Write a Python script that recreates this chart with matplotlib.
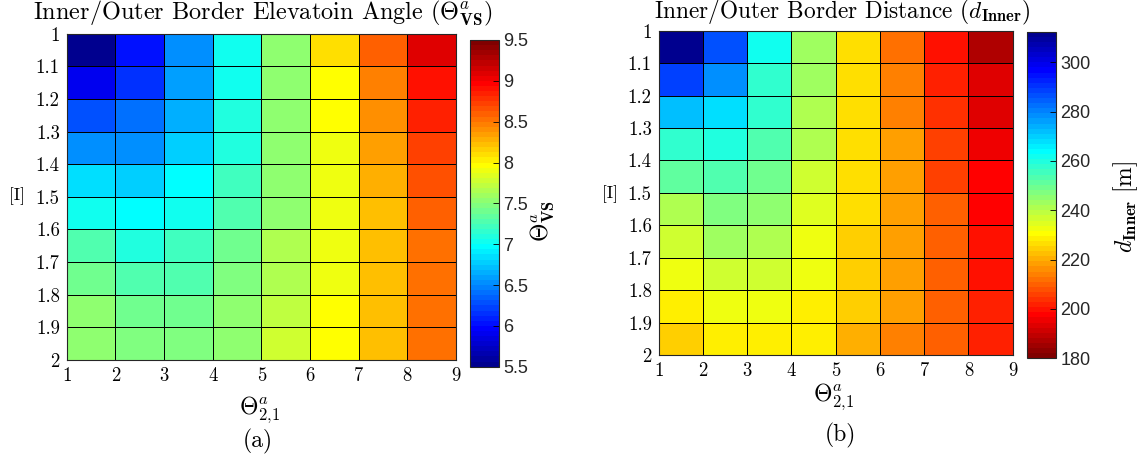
import numpy as np
import matplotlib
matplotlib.use("Agg")
import matplotlib.pyplot as plt
from matplotlib.colors import ListedColormap, Normalize

# ---------------- data ----------------
x_edges = [1, 2, 3, 4, 5, 6, 7, 8, 9]
y_edges = [1.0, 1.1, 1.2, 1.3, 1.4, 1.5, 1.6, 1.7, 1.8, 1.9, 2.0]
x_tick_labels = ["1", "2", "3", "4", "5", "6", "7", "8", "9"]
y_tick_labels = ["1", "1.1", "1.2", "1.3", "1.4", "1.5", "1.6", "1.7", "1.8", "1.9", "2"]

# (a) elevation angle, rows top (1.0) -> bottom (2.0), cols 1..8
elev_angle = [
    [5.55, 6.03, 6.53, 7.03, 7.55, 8.10, 8.58, 9.07],
    [5.91, 6.16, 6.60, 7.03, 7.50, 7.94, 8.44, 8.91],
    [6.28, 6.38, 6.63, 7.12, 7.50, 7.94, 8.40, 8.84],
    [6.56, 6.56, 6.78, 7.12, 7.50, 7.88, 8.34, 8.72],
    [6.82, 6.78, 6.94, 7.19, 7.50, 7.88, 8.28, 8.66],
    [7.03, 6.94, 7.03, 7.25, 7.56, 7.88, 8.22, 8.60],
    [7.25, 7.12, 7.19, 7.38, 7.63, 7.88, 8.22, 8.56],
    [7.38, 7.25, 7.25, 7.44, 7.63, 7.88, 8.22, 8.53],
    [7.56, 7.38, 7.38, 7.50, 7.69, 7.94, 8.22, 8.50],
    [7.56, 7.44, 7.44, 7.56, 7.75, 7.94, 8.22, 8.50],
]
elev_clim = [5.5, 9.5]
elev_cticks = [5.5, 6, 6.5, 7, 7.5, 8, 8.5, 9, 9.5]
elev_cticklabels = ["5.5", "6", "6.5", "7", "7.5", "8", "8.5", "9", "9.5"]

# (b) inner distance [m]
dist_inner = [
    [312.0, 286.3, 262.5, 242.7, 227.1, 213.0, 200.5, 187.3],
    [288.2, 278.0, 258.5, 244.0, 227.0, 214.6, 202.4, 192.5],
    [271.7, 268.4, 256.6, 242.0, 227.0, 214.0, 204.8, 193.5],
    [258.5, 260.5, 253.3, 240.0, 227.0, 217.3, 206.8, 196.5],
    [252.2, 253.3, 250.0, 237.8, 227.0, 217.3, 206.8, 198.5],
    [242.0, 248.0, 245.0, 235.7, 227.0, 217.3, 209.0, 198.5],
    [237.8, 242.7, 240.7, 233.5, 225.5, 217.3, 209.0, 200.5],
    [233.5, 237.8, 236.8, 232.0, 223.6, 217.3, 209.0, 200.5],
    [229.5, 233.5, 233.5, 229.5, 223.6, 217.3, 209.0, 201.8],
    [224.5, 229.5, 229.5, 227.9, 221.3, 214.0, 209.0, 202.4],
]
dist_clim = [180, 312.4]
dist_cticks = [180, 200, 220, 240, 260, 280, 300]
dist_cticklabels = ["180", "200", "220", "240", "260", "280", "300"]


def matlab_jet(m=64):
    n = int(np.ceil(m / 4))
    u = np.concatenate([np.arange(1, n + 1) / n, np.ones(n - 1), np.arange(n, 0, -1) / n])
    g = int(np.ceil(n / 2)) - (1 if m % 4 == 1 else 0) + np.arange(1, len(u) + 1)
    r = g + n
    b = g - n
    J = np.zeros((m, 3))
    for idx, col in ((r, 0), (g, 1), (b, 2)):
        mask = (idx >= 1) & (idx <= m)
        J[idx[mask] - 1, col] = u[mask]
    return J


jet = ListedColormap(matlab_jet(64), name="mjet")
jet_r = ListedColormap(matlab_jet(64)[::-1], name="mjet_r")

plt.rcParams["mathtext.fontset"] = "cm"
plt.rcParams["axes.formatter.use_mathtext"] = True
SERIF = "cmr10"
SANS = "Liberation Sans"

W, H = 1141, 459
fig = plt.figure(figsize=(W / 100, H / 100), dpi=100)


def px_axes(l, t, r, b):
    return fig.add_axes([l / W, 1 - b / H, (r - l) / W, (b - t) / H])


def draw_panel(ax, cax, data, cmap, clim, cticks, cticklabels):
    norm = Normalize(vmin=clim[0], vmax=clim[1])
    mesh = ax.pcolormesh(x_edges, y_edges, np.array(data), cmap=cmap, norm=norm,
                         edgecolors="k", linewidth=0.6, shading="flat")
    ax.set_xlim(x_edges[0], x_edges[-1])
    ax.set_ylim(y_edges[-1], y_edges[0])
    ax.set_xticks(x_edges)
    ax.set_xticklabels(x_tick_labels, fontfamily=SERIF, fontsize=13.5)
    ax.set_yticks(y_edges)
    ax.set_yticklabels(y_tick_labels, fontfamily=SERIF, fontsize=13.5)
    ax.tick_params(direction="in", length=0, pad=5)
    for s in ax.spines.values():
        s.set_color("#262626")
        s.set_linewidth(0.8)
    cb = fig.colorbar(mesh, cax=cax)
    cb.set_ticks(cticks)
    cb.set_ticklabels(cticklabels)
    cax.tick_params(direction="in", length=4, width=0.6, labelsize=13, pad=3)
    for lab in cax.get_yticklabels():
        lab.set_fontfamily(SANS)
        lab.set_color("#262626")
    cb.outline.set_linewidth(0.8)
    cb.outline.set_edgecolor("#262626")
    return cb


# ---------- panel (a) ----------
ax1 = px_axes(66.7, 33.7, 456, 360)
cax1 = px_axes(470, 40, 499, 366.7)
draw_panel(ax1, cax1, elev_angle, jet, elev_clim, elev_cticks, elev_cticklabels)

# ---------- panel (b) ----------
ax2 = px_axes(658.7, 30.7, 1012.7, 355)
cax2 = px_axes(1027, 31.7, 1056, 358.3)
draw_panel(ax2, cax2, dist_inner, jet_r, dist_clim, dist_cticks, dist_cticklabels)


def ftext(xp, yp, s, size, rot=0, family=SERIF):
    fig.text(xp / W, 1 - yp / H, s, ha="center", va="center", fontsize=size,
             rotation=rot, fontfamily=family)


# titles
ftext(263, 13.5, r"Inner/Outer Border Elevatoin Angle ($\Theta^a_{\mathbf{VS}}$)", 17.5)
ftext(842, 12.5, r"Inner/Outer Border Distance ($d_{\mathbf{Inner}}$)", 16.8)

# y labels
ftext(17, 196, "[I]", 12.5)
ftext(610, 194, "[I]", 12.5)

# x labels and panel captions
ftext(260, 410, r"$\Theta^a_{2{,}1}$", 17)
ftext(258, 441, "(a)", 17)
ftext(834, 397, r"$\Theta^a_{2{,}1}$", 17)
ftext(840, 435, "(b)", 17)

# colorbar labels
ftext(543, 221, r"$\Theta^a_{\mathbf{VS}}$", 17, rot=90)
ftext(1126, 207, r"$d_{\mathbf{Inner}}\ [\mathrm{m}]$", 17, rot=90)

fig.savefig("out.png", dpi=100)
